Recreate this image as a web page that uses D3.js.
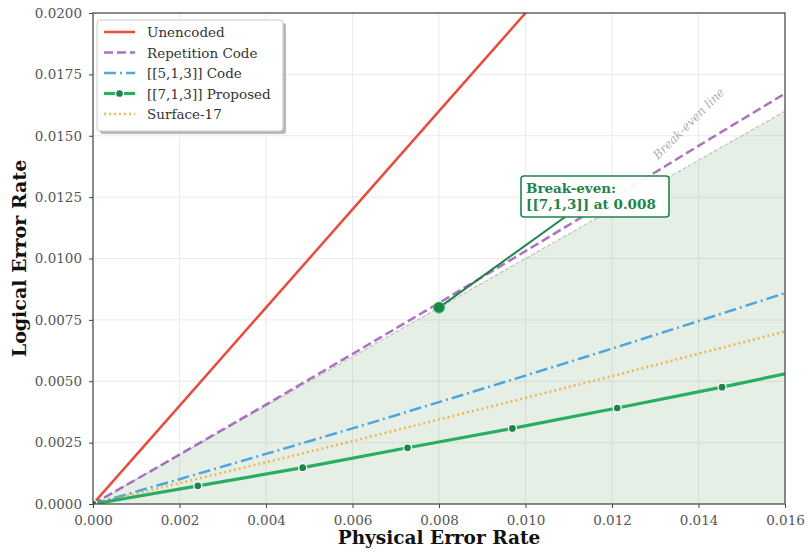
<!DOCTYPE html>
<html>
<head>
<meta charset="utf-8">
<script src="https://cdn.jsdelivr.net/npm/d3@7/dist/d3.min.js"></script>
<style>
  html, body { margin: 0; padding: 0; background: #fff; }
  svg { display: block; }
  text { font-family: "DejaVu Serif", serif; }
</style>
</head>
<body>
<svg id="chart" width="808" height="555"></svg>
<script>
// ---- Data ----
const physical    = [0, 0.002, 0.004, 0.006, 0.008, 0.010, 0.012, 0.014, 0.016];
const unencoded   = [0, 0.004, 0.008, 0.012, 0.016, 0.020, 0.024, 0.028, 0.032];
const repetition  = [0, 0.00201, 0.00405, 0.00611, 0.00819, 0.01030, 0.01243, 0.01459, 0.01672];
const code513     = [0, 0.00101, 0.00204, 0.00308, 0.00415, 0.00523, 0.00633, 0.00745, 0.00859];
const surface17   = [0, 0.00085, 0.00170, 0.00256, 0.00344, 0.00432, 0.00521, 0.00612, 0.00703];
const breakEven   = [0, 0.002, 0.004, 0.006, 0.008, 0.010, 0.012, 0.014, 0.016];
const proposedX   = [0, 0.002424, 0.004848, 0.007273, 0.009697, 0.012121, 0.014545, 0.016];
const proposedY   = [0, 0.00074, 0.00148, 0.00229, 0.00308, 0.00391, 0.00476, 0.00530];
const proposedMarked = [true, true, true, true, true, true, true, false];
const breakEvenPoint = { x: 0.008, y: 0.008 };
const xTicks = [0, 0.002, 0.004, 0.006, 0.008, 0.010, 0.012, 0.014, 0.016];
const yTicks = [0, 0.0025, 0.005, 0.0075, 0.010, 0.0125, 0.015, 0.0175, 0.020];
const legendLabels = ["Unencoded", "Repetition Code", "[[5,1,3]] Code", "[[7,1,3]] Proposed", "Surface-17"];
const annotationLines = ["Break-even:", "[[7,1,3]] at 0.008"];
const breakEvenLabel = "Break-even line";
const xLabel = "Physical Error Rate";
const yLabel = "Logical Error Rate";

// ---- Layout ----
const W = 808, H = 555;
const M = { left: 93, right: 23, top: 13, bottom: 51 };
const iw = W - M.left - M.right, ih = H - M.top - M.bottom;

const svg = d3.select("#chart");
const x = d3.scaleLinear().domain([0, 0.016]).range([M.left, M.left + iw]);
const y = d3.scaleLinear().domain([0, 0.020]).range([M.top + ih, M.top]);

svg.append("defs").append("clipPath").attr("id", "clip")
  .append("rect").attr("x", M.left).attr("y", M.top).attr("width", iw).attr("height", ih);

// grid
const grid = svg.append("g");
grid.selectAll("line.vx").data(xTicks).join("line")
  .attr("x1", d => x(d)).attr("x2", d => x(d)).attr("y1", M.top).attr("y2", M.top + ih)
  .attr("stroke", "#e6e6e6").attr("stroke-width", 0.8);
grid.selectAll("line.hy").data(yTicks).join("line")
  .attr("y1", d => y(d)).attr("y2", d => y(d)).attr("x1", M.left).attr("x2", M.left + iw)
  .attr("stroke", "#e6e6e6").attr("stroke-width", 0.8);

const plot = svg.append("g").attr("clip-path", "url(#clip)");

// fill below break-even
const beData = physical.map((p, i) => ({ x: p, y: breakEven[i] }));
plot.append("path").datum(beData)
  .attr("d", d3.area().x(d => x(d.x)).y0(y(0)).y1(d => y(d.y)))
  .attr("fill", "#2e7d32").attr("fill-opacity", 0.12);
plot.append("path").datum(beData)
  .attr("d", d3.line().x(d => x(d.x)).y(d => y(d.y)))
  .attr("fill", "none").attr("stroke", "#999").attr("stroke-opacity", 0.6)
  .attr("stroke-width", 1.1).attr("stroke-dasharray", "4,2");

const lineGen = d3.line().x(d => x(d.x)).y(d => y(d.y));
function series(vals) { return physical.map((p, i) => ({ x: p, y: vals[i] })); }

const styles = [
  { data: series(unencoded), color: "#e74c3c", width: 2.5, dash: null, op: 1 },
  { data: series(repetition), color: "#9b59b6", width: 2.5, dash: "9,4", op: 0.85 },
  { data: series(code513), color: "#3498db", width: 2.5, dash: "12,4,2,4", op: 0.85 },
  { data: proposedX.map((p, i) => ({ x: p, y: proposedY[i] })), color: "#27ae60", width: 3.2, dash: null, op: 1 },
  { data: series(surface17), color: "#f39c12", width: 2.5, dash: "2,3", op: 0.7 }
];
[0, 1, 2, 4, 3].forEach(k => {
  const s = styles[k];
  plot.append("path").datum(s.data).attr("d", lineGen)
    .attr("fill", "none").attr("stroke", s.color).attr("stroke-width", s.width)
    .attr("stroke-opacity", s.op)
    .attr("stroke-dasharray", s.dash);
});
plot.selectAll("circle.pm").data(styles[3].data.filter((d, i) => proposedMarked[i])).join("circle")
  .attr("cx", d => x(d.x)).attr("cy", d => y(d.y)).attr("r", 4)
  .attr("fill", "#1e8449").attr("stroke", "#fff").attr("stroke-width", 1.3);

// annotation arrow + point
const boxX = 521, boxY = 176, boxW = 148, boxH = 41;
svg.append("line")
  .attr("x1", boxX + 44).attr("y1", boxY + boxH)
  .attr("x2", x(breakEvenPoint.x)).attr("y2", y(breakEvenPoint.y))
  .attr("stroke", "#1e8449").attr("stroke-width", 2);
svg.append("circle").attr("cx", x(breakEvenPoint.x)).attr("cy", y(breakEvenPoint.y)).attr("r", 5.5)
  .attr("fill", "#1e8449").attr("stroke", "#2ecc71").attr("stroke-width", 1);

svg.append("rect").attr("x", boxX).attr("y", boxY).attr("width", boxW).attr("height", boxH)
  .attr("rx", 3).attr("fill", "#fff").attr("fill-opacity", 0.92)
  .attr("stroke", "#1e8449").attr("stroke-width", 1.6);
svg.append("text").attr("x", boxX + 5).attr("y", boxY + 17)
  .attr("font-size", 13.5).attr("font-weight", "bold").attr("fill", "#1e8449")
  .selectAll("tspan").data(annotationLines).join("tspan")
  .attr("x", boxX + 5).attr("dy", (d, i) => i === 0 ? 0 : 16).text(d => d);

// break-even label
svg.append("text").attr("transform", "translate(658,160) rotate(-45)")
  .attr("font-size", 12).attr("font-style", "italic").attr("fill", "#999").attr("fill-opacity", 0.8)
  .text(breakEvenLabel);

// frame
svg.append("rect").attr("x", M.left).attr("y", M.top).attr("width", iw).attr("height", ih)
  .attr("fill", "none").attr("stroke", "#444").attr("stroke-width", 1.2);

// axes
const xAxis = svg.append("g").attr("transform", `translate(0,${M.top + ih})`)
  .call(d3.axisBottom(x).tickValues(xTicks).tickFormat(d3.format(".3f")).tickSize(4).tickPadding(7));
const yAxis = svg.append("g").attr("transform", `translate(${M.left},0)`)
  .call(d3.axisLeft(y).tickValues(yTicks).tickFormat(d3.format(".4f")).tickSize(4).tickPadding(7));
[xAxis, yAxis].forEach(a => {
  a.select(".domain").remove();
  a.selectAll(".tick line").attr("stroke", "#444");
  a.selectAll(".tick text").attr("font-family", "DejaVu Serif").attr("font-size", 13.5).attr("fill", "#555");
});

// axis labels
svg.append("text").attr("x", M.left + iw / 2).attr("y", 544).attr("text-anchor", "middle")
  .attr("font-size", 18.5).attr("font-weight", "bold").attr("fill", "#111").text(xLabel);
svg.append("text").attr("transform", `translate(26,${M.top + ih / 2}) rotate(-90)`).attr("text-anchor", "middle")
  .attr("font-size", 19).attr("font-weight", "bold").attr("fill", "#111").text(yLabel);

// legend
const lg = svg.append("g");
const lx = 97, ly = 20, lw = 186, lh = 111;
lg.append("rect").attr("x", lx + 3).attr("y", ly + 3).attr("width", lw).attr("height", lh)
  .attr("rx", 3).attr("fill", "#888").attr("fill-opacity", 0.6);
lg.append("rect").attr("x", lx).attr("y", ly).attr("width", lw).attr("height", lh)
  .attr("rx", 3).attr("fill", "#fff").attr("stroke", "#ccc").attr("stroke-width", 1);
legendLabels.forEach((lab, i) => {
  const s = styles[i];
  const cy = 32 + i * 20.5;
  lg.append("line").attr("x1", 104).attr("x2", 135).attr("y1", cy).attr("y2", cy)
    .attr("stroke", s.color).attr("stroke-width", s.width).attr("stroke-opacity", s.op)
    .attr("stroke-dasharray", s.dash);
  if (i === 3) {
    lg.append("circle").attr("cx", 119.5).attr("cy", cy).attr("r", 4)
      .attr("fill", "#1e8449").attr("stroke", "#fff").attr("stroke-width", 1.3);
  }
  lg.append("text").attr("x", 147).attr("y", cy + 5).attr("font-size", 13.5).attr("fill", "#333").text(lab);
});
</script>
</body>
</html>
